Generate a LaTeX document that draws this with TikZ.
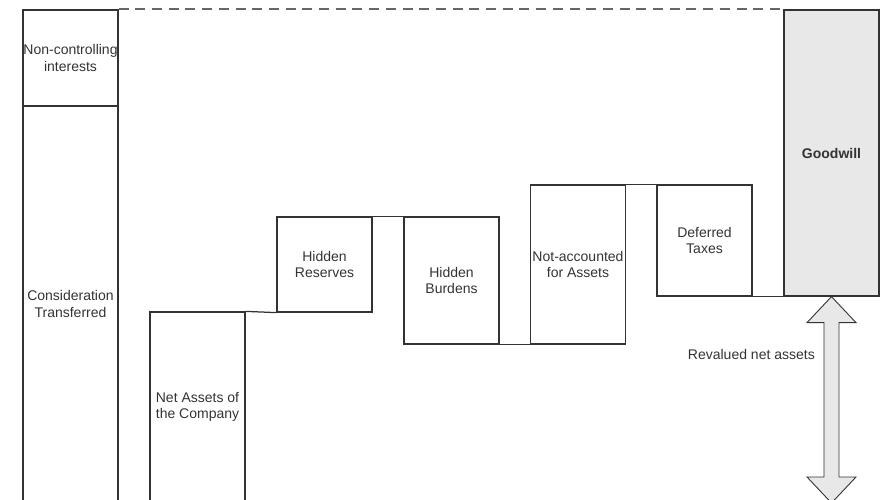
\documentclass[tikz,border=0pt]{standalone}
\usepackage{fontspec}
\setmainfont{Liberation Sans}
\usetikzlibrary{calc}
\begin{document}
\begin{tikzpicture}[x=1pt,y={(0,-1pt)},
  ink/.style={draw=black!80, line width=1.25pt},
  block/.style={ink, rectangle, inner sep=0pt, minimum width=95pt, align=center,
    text=black!80, font=\fontsize{14}{16.5}\selectfont},
  link/.style={ink},
  gain/.style={draw=black!60, line width=1.8pt, dash pattern=on 10pt off 6.7pt},
  bigarrow/.style={draw=black!80, line width=0.9pt, fill=black!9, line join=miter}]
\useasboundingbox (0,0) rectangle (886,500);
\clip (0,0) rectangle (886,500);

% left column: purchase price split
\node[block, minimum height=96pt] (nci) at (70.5,58) {Non-controlling\\interests};
\node[block, minimum height=396pt] (ct) at (70.5,304) {Consideration\\Transferred};

% staircase of revaluation steps
\node[block, minimum height=190pt] (net) at (197.5,407) {Net Assets of\\the Company};
\node[block, minimum height=95pt] (res) at (324.5,264.5) {Hidden\\Reserves};
\node[block, minimum height=127pt] (bur) at (451.5,280.5) {Hidden\\Burdens};
\node[block, minimum height=159pt] (nac) at (578,264.5) {Not-accounted\\for Assets};
\node[block, minimum height=111pt] (def) at (704.5,240.5) {Deferred\\Taxes};
\node[block, minimum height=286pt, fill=black!9, font=\fontsize{14}{16.5}\selectfont\bfseries] (gw) at (831.5,153) {Goodwill};

% step connectors
\draw[link] (net.north east) -- (res.south west);
\draw[link] (res.north east) -- (bur.north west);
\draw[link] (bur.south east) -- (nac.south west);
\draw[link] (nac.north east) -- (def.north west);
\draw[link] (def.south east) -- (gw.south west);
\draw[gain] (nci.north east) -- (gw.north west);

% revalued net assets span
\coordinate (floor) at (831.5,503);
\draw[bigarrow] (gw.south) -- ++(24.5,26) -- ++(-17,0) -- ($(floor)+(7.5,-26)$) -- ++(17,0)
  -- (floor) -- ++(-24.5,-26) -- ++(17,0) -- ($(gw.south)+(-7.5,26)$) -- ++(-17,0) -- cycle;
\node[anchor=east, text=black!80, font=\fontsize{14}{16.5}\selectfont, inner sep=0pt] (rna) at (815,354) {Revalued net assets};
\end{tikzpicture}
\end{document}
